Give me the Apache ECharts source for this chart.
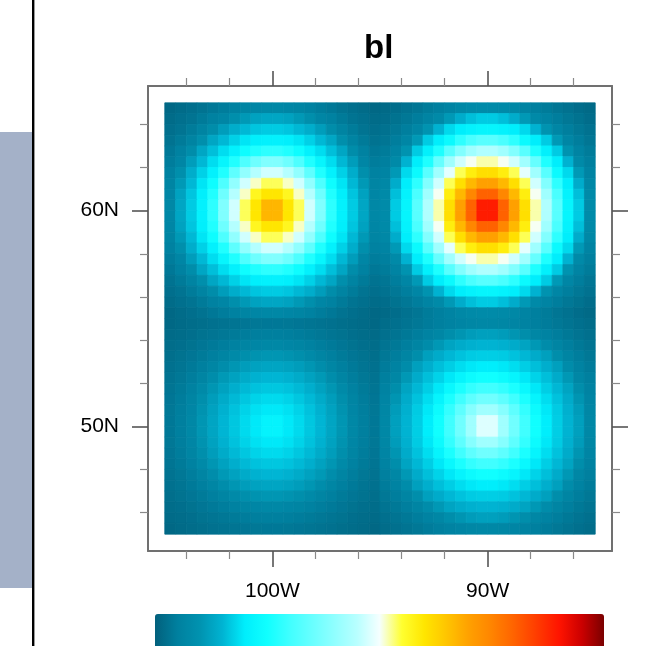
<!DOCTYPE html>
<html><head><meta charset="utf-8">
<script src="https://cdn.jsdelivr.net/npm/echarts@6/dist/echarts.min.js"></script>
<style>html,body{margin:0;padding:0;background:#fff}#c{width:653px;height:646px}</style>
</head><body><div id="c"></div>
<script>
// grid cell centres (0.5 degree cells)
const lonCenters = [-104.75,-104.25,-103.75,-103.25,-102.75,-102.25,-101.75,-101.25,-100.75,-100.25,-99.75,-99.25,-98.75,-98.25,-97.75,-97.25,-96.75,-96.25,-95.75,-95.25,-94.75,-94.25,-93.75,-93.25,-92.75,-92.25,-91.75,-91.25,-90.75,-90.25,-89.75,-89.25,-88.75,-88.25,-87.75,-87.25,-86.75,-86.25,-85.75,-85.25];
const latCenters = [64.75,64.25,63.75,63.25,62.75,62.25,61.75,61.25,60.75,60.25,59.75,59.25,58.75,58.25,57.75,57.25,56.75,56.25,55.75,55.25,54.75,54.25,53.75,53.25,52.75,52.25,51.75,51.25,50.75,50.25,49.75,49.25,48.75,48.25,47.75,47.25,46.75,46.25,45.75,45.25];
const cellDeg = 0.5;

// values (north to south rows, west to east columns) per quadrant
const topLeft = [
[1.3,1.8,2.4,3.0,3.8,4.5,5.5,6.2,6.7,7.0,7.0,6.7,6.2,5.5,4.5,3.8,3.0,2.4,1.8,1.3],
[1.8,2.5,3.2,4.2,5.5,6.7,8.9,10.9,12.3,13.0,13.0,12.3,10.9,8.9,6.7,5.5,4.2,3.2,2.5,1.8],
[2.4,3.2,4.3,6.0,8.3,11.6,14.0,15.4,16.5,17.0,17.0,16.5,15.4,14.0,11.6,8.3,6.0,4.3,3.2,2.4],
[3.0,4.2,6.0,8.9,13.0,15.4,17.5,19.2,20.4,21.0,21.0,20.4,19.2,17.5,15.4,13.0,8.9,6.0,4.2,3.0],
[3.8,5.5,8.3,13.0,16.0,18.6,21.0,24.4,26.7,28.0,28.0,26.7,24.4,21.0,18.6,16.0,13.0,8.3,5.5,3.8],
[4.5,6.7,11.6,15.4,18.6,22.1,26.7,31.8,35.8,38.0,38.0,35.8,31.8,26.7,22.1,18.6,15.4,11.6,6.7,4.5],
[5.5,8.9,14.0,17.5,21.0,26.7,33.8,40.1,44.5,47.0,47.0,44.5,40.1,33.8,26.7,21.0,17.5,14.0,8.9,5.5],
[6.2,10.9,15.4,19.2,24.4,31.8,40.1,47.0,51.4,54.0,54.0,51.4,47.0,40.1,31.8,24.4,19.2,15.4,10.9,6.2],
[6.7,12.3,16.5,20.4,26.7,35.8,44.5,51.4,56.7,60.0,60.0,56.7,51.4,44.5,35.8,26.7,20.4,16.5,12.3,6.7],
[7.0,13.0,17.0,21.0,28.0,38.0,47.0,54.0,60.0,67.0,67.0,60.0,54.0,47.0,38.0,28.0,21.0,17.0,13.0,7.0],
[7.0,13.0,17.0,21.0,28.0,38.0,47.0,54.0,60.0,67.0,67.0,60.0,54.0,47.0,38.0,28.0,21.0,17.0,13.0,7.0],
[6.7,12.3,16.5,20.4,26.7,35.8,44.5,51.4,56.7,60.0,60.0,56.7,51.4,44.5,35.8,26.7,20.4,16.5,12.3,6.7],
[6.2,10.9,15.4,19.2,24.4,31.8,40.1,47.0,51.4,54.0,54.0,51.4,47.0,40.1,31.8,24.4,19.2,15.4,10.9,6.2],
[5.5,8.9,14.0,17.5,21.0,26.7,33.8,40.1,44.5,47.0,47.0,44.5,40.1,33.8,26.7,21.0,17.5,14.0,8.9,5.5],
[4.5,6.7,11.6,15.4,18.6,22.1,26.7,31.8,35.8,38.0,38.0,35.8,31.8,26.7,22.1,18.6,15.4,11.6,6.7,4.5],
[3.8,5.5,8.3,13.0,16.0,18.6,21.0,24.4,26.7,28.0,28.0,26.7,24.4,21.0,18.6,16.0,13.0,8.3,5.5,3.8],
[3.0,4.2,6.0,8.9,13.0,15.4,17.5,19.2,20.4,21.0,21.0,20.4,19.2,17.5,15.4,13.0,8.9,6.0,4.2,3.0],
[2.4,3.2,4.3,6.0,8.3,11.6,14.0,15.4,16.5,17.0,17.0,16.5,15.4,14.0,11.6,8.3,6.0,4.3,3.2,2.4],
[1.8,2.5,3.2,4.2,5.5,6.7,8.9,10.9,12.3,13.0,13.0,12.3,10.9,8.9,6.7,5.5,4.2,3.2,2.5,1.8],
[1.3,1.8,2.4,3.0,3.8,4.5,5.5,6.2,6.7,7.0,7.0,6.7,6.2,5.5,4.5,3.8,3.0,2.4,1.8,1.3]
];
const topRight = [
[1.5,2.1,2.8,3.4,4.3,5.0,6.1,7.1,7.7,8.0,8.0,7.7,7.1,6.1,5.0,4.3,3.4,2.8,2.1,1.5],
[2.1,2.9,3.7,4.7,6.1,7.7,10.9,13.9,16.0,17.0,17.0,16.0,13.9,10.9,7.7,6.1,4.7,3.7,2.9,2.1],
[2.8,3.7,4.8,6.7,9.9,14.9,18.2,20.1,21.3,22.0,22.0,21.3,20.1,18.2,14.9,9.9,6.7,4.8,3.7,2.8],
[3.4,4.7,6.7,10.9,17.0,20.1,23.5,28.1,31.3,33.0,33.0,31.3,28.1,23.5,20.1,17.0,10.9,6.7,4.7,3.4],
[4.3,6.1,9.9,17.0,20.7,26.5,33.0,38.3,42.0,44.0,44.0,42.0,38.3,33.0,26.5,20.7,17.0,9.9,6.1,4.3],
[5.0,7.7,14.9,20.1,26.5,34.7,42.0,47.0,50.3,52.0,52.0,50.3,47.0,42.0,34.7,26.5,20.1,14.9,7.7,5.0],
[6.1,10.9,18.2,23.5,33.0,42.0,48.6,54.1,58.5,61.0,61.0,58.5,54.1,48.6,42.0,33.0,23.5,18.2,10.9,6.1],
[7.1,13.9,20.1,28.1,38.3,47.0,54.1,61.0,66.7,70.0,70.0,66.7,61.0,54.1,47.0,38.3,28.1,20.1,13.9,7.1],
[7.7,16.0,21.3,31.3,42.0,50.3,58.5,66.7,74.4,80.0,80.0,74.4,66.7,58.5,50.3,42.0,31.3,21.3,16.0,7.7],
[8.0,17.0,22.0,33.0,44.0,52.0,61.0,70.0,80.0,89.0,89.0,80.0,70.0,61.0,52.0,44.0,33.0,22.0,17.0,8.0],
[8.0,17.0,22.0,33.0,44.0,52.0,61.0,70.0,80.0,89.0,89.0,80.0,70.0,61.0,52.0,44.0,33.0,22.0,17.0,8.0],
[7.7,16.0,21.3,31.3,42.0,50.3,58.5,66.7,74.4,80.0,80.0,74.4,66.7,58.5,50.3,42.0,31.3,21.3,16.0,7.7],
[7.1,13.9,20.1,28.1,38.3,47.0,54.1,61.0,66.7,70.0,70.0,66.7,61.0,54.1,47.0,38.3,28.1,20.1,13.9,7.1],
[6.1,10.9,18.2,23.5,33.0,42.0,48.6,54.1,58.5,61.0,61.0,58.5,54.1,48.6,42.0,33.0,23.5,18.2,10.9,6.1],
[5.0,7.7,14.9,20.1,26.5,34.7,42.0,47.0,50.3,52.0,52.0,50.3,47.0,42.0,34.7,26.5,20.1,14.9,7.7,5.0],
[4.3,6.1,9.9,17.0,20.7,26.5,33.0,38.3,42.0,44.0,44.0,42.0,38.3,33.0,26.5,20.7,17.0,9.9,6.1,4.3],
[3.4,4.7,6.7,10.9,17.0,20.1,23.5,28.1,31.3,33.0,33.0,31.3,28.1,23.5,20.1,17.0,10.9,6.7,4.7,3.4],
[2.8,3.7,4.8,6.7,9.9,14.9,18.2,20.1,21.3,22.0,22.0,21.3,20.1,18.2,14.9,9.9,6.7,4.8,3.7,2.8],
[2.1,2.9,3.7,4.7,6.1,7.7,10.9,13.9,16.0,17.0,17.0,16.0,13.9,10.9,7.7,6.1,4.7,3.7,2.9,2.1],
[1.5,2.1,2.8,3.4,4.3,5.0,6.1,7.1,7.7,8.0,8.0,7.7,7.1,6.1,5.0,4.3,3.4,2.8,2.1,1.5]
];
const bottomLeft = [
[1.3,1.7,2.0,2.3,2.7,3.0,3.3,3.5,3.7,3.8,3.8,3.7,3.5,3.3,3.0,2.7,2.3,2.0,1.7,1.3],
[1.7,2.0,2.4,2.9,3.3,3.7,4.2,4.6,4.9,5.0,5.0,4.9,4.6,4.2,3.7,3.3,2.9,2.4,2.0,1.7],
[2.0,2.4,2.9,3.5,4.1,4.7,5.5,6.2,6.7,7.0,7.0,6.7,6.2,5.5,4.7,4.1,3.5,2.9,2.4,2.0],
[2.3,2.9,3.5,4.2,5.0,6.2,7.5,8.9,10.0,10.5,10.5,10.0,8.9,7.5,6.2,5.0,4.2,3.5,2.9,2.3],
[2.7,3.3,4.1,5.0,6.5,8.4,10.5,11.6,12.4,12.8,12.8,12.4,11.6,10.5,8.4,6.5,5.0,4.1,3.3,2.7],
[3.0,3.7,4.7,6.2,8.4,10.9,12.4,13.7,14.7,15.2,15.2,14.7,13.7,12.4,10.9,8.4,6.2,4.7,3.7,3.0],
[3.3,4.2,5.5,7.5,10.5,12.4,14.2,15.5,16.3,16.7,16.7,16.3,15.5,14.2,12.4,10.5,7.5,5.5,4.2,3.3],
[3.5,4.6,6.2,8.9,11.6,13.7,15.5,16.7,17.7,18.3,18.3,17.7,16.7,15.5,13.7,11.6,8.9,6.2,4.6,3.5],
[3.7,4.9,6.7,10.0,12.4,14.7,16.3,17.7,18.9,19.6,19.6,18.9,17.7,16.3,14.7,12.4,10.0,6.7,4.9,3.7],
[3.8,5.0,7.0,10.5,12.8,15.2,16.7,18.3,19.6,21.5,21.5,19.6,18.3,16.7,15.2,12.8,10.5,7.0,5.0,3.8],
[3.8,5.0,7.0,10.5,12.8,15.2,16.7,18.3,19.6,21.5,21.5,19.6,18.3,16.7,15.2,12.8,10.5,7.0,5.0,3.8],
[3.7,4.9,6.7,10.0,12.4,14.7,16.3,17.7,18.9,19.6,19.6,18.9,17.7,16.3,14.7,12.4,10.0,6.7,4.9,3.7],
[3.5,4.6,6.2,8.9,11.6,13.7,15.5,16.7,17.7,18.3,18.3,17.7,16.7,15.5,13.7,11.6,8.9,6.2,4.6,3.5],
[3.3,4.2,5.5,7.5,10.5,12.4,14.2,15.5,16.3,16.7,16.7,16.3,15.5,14.2,12.4,10.5,7.5,5.5,4.2,3.3],
[3.0,3.7,4.7,6.2,8.4,10.9,12.4,13.7,14.7,15.2,15.2,14.7,13.7,12.4,10.9,8.4,6.2,4.7,3.7,3.0],
[2.7,3.3,4.1,5.0,6.5,8.4,10.5,11.6,12.4,12.8,12.8,12.4,11.6,10.5,8.4,6.5,5.0,4.1,3.3,2.7],
[2.3,2.9,3.5,4.2,5.0,6.2,7.5,8.9,10.0,10.5,10.5,10.0,8.9,7.5,6.2,5.0,4.2,3.5,2.9,2.3],
[2.0,2.4,2.9,3.5,4.1,4.7,5.5,6.2,6.7,7.0,7.0,6.7,6.2,5.5,4.7,4.1,3.5,2.9,2.4,2.0],
[1.7,2.0,2.4,2.9,3.3,3.7,4.2,4.6,4.9,5.0,5.0,4.9,4.6,4.2,3.7,3.3,2.9,2.4,2.0,1.7],
[1.3,1.7,2.0,2.3,2.7,3.0,3.3,3.5,3.7,3.8,3.8,3.7,3.5,3.3,3.0,2.7,2.3,2.0,1.7,1.3]
];
const bottomRight = [
[2.0,2.5,3.1,3.7,4.4,5.0,5.8,6.4,6.8,7.0,7.0,6.8,6.4,5.8,5.0,4.4,3.7,3.1,2.5,2.0],
[2.5,3.2,3.9,4.7,5.8,6.8,8.6,10.3,11.4,12.0,12.0,11.4,10.3,8.6,6.8,5.8,4.7,3.9,3.2,2.5],
[3.1,3.9,4.9,6.2,8.1,10.8,12.7,13.8,14.6,15.0,15.0,14.6,13.8,12.7,10.8,8.1,6.2,4.9,3.9,3.1],
[3.7,4.7,6.2,8.6,12.0,13.8,15.3,16.3,17.0,17.3,17.3,17.0,16.3,15.3,13.8,12.0,8.6,6.2,4.7,3.7],
[4.4,5.8,8.1,12.0,14.2,16.0,17.3,18.6,19.5,20.0,20.0,19.5,18.6,17.3,16.0,14.2,12.0,8.1,5.8,4.4],
[5.0,6.8,10.8,13.8,16.0,17.7,19.5,21.9,23.9,25.0,25.0,23.9,21.9,19.5,17.7,16.0,13.8,10.8,6.8,5.0],
[5.8,8.6,12.7,15.3,17.3,19.5,22.9,26.1,28.6,30.0,30.0,28.6,26.1,22.9,19.5,17.3,15.3,12.7,8.6,5.8],
[6.4,10.3,13.8,16.3,18.6,21.9,26.1,30.0,33.8,36.0,36.0,33.8,30.0,26.1,21.9,18.6,16.3,13.8,10.3,6.4],
[6.8,11.4,14.6,17.0,19.5,23.9,28.6,33.8,38.7,42.0,42.0,38.7,33.8,28.6,23.9,19.5,17.0,14.6,11.4,6.8],
[7.0,12.0,15.0,17.3,20.0,25.0,30.0,36.0,42.0,48.0,48.0,42.0,36.0,30.0,25.0,20.0,17.3,15.0,12.0,7.0],
[7.0,12.0,15.0,17.3,20.0,25.0,30.0,36.0,42.0,48.0,48.0,42.0,36.0,30.0,25.0,20.0,17.3,15.0,12.0,7.0],
[6.8,11.4,14.6,17.0,19.5,23.9,28.6,33.8,38.7,42.0,42.0,38.7,33.8,28.6,23.9,19.5,17.0,14.6,11.4,6.8],
[6.4,10.3,13.8,16.3,18.6,21.9,26.1,30.0,33.8,36.0,36.0,33.8,30.0,26.1,21.9,18.6,16.3,13.8,10.3,6.4],
[5.8,8.6,12.7,15.3,17.3,19.5,22.9,26.1,28.6,30.0,30.0,28.6,26.1,22.9,19.5,17.3,15.3,12.7,8.6,5.8],
[5.0,6.8,10.8,13.8,16.0,17.7,19.5,21.9,23.9,25.0,25.0,23.9,21.9,19.5,17.7,16.0,13.8,10.8,6.8,5.0],
[4.4,5.8,8.1,12.0,14.2,16.0,17.3,18.6,19.5,20.0,20.0,19.5,18.6,17.3,16.0,14.2,12.0,8.1,5.8,4.4],
[3.7,4.7,6.2,8.6,12.0,13.8,15.3,16.3,17.0,17.3,17.3,17.0,16.3,15.3,13.8,12.0,8.6,6.2,4.7,3.7],
[3.1,3.9,4.9,6.2,8.1,10.8,12.7,13.8,14.6,15.0,15.0,14.6,13.8,12.7,10.8,8.1,6.2,4.9,3.9,3.1],
[2.5,3.2,3.9,4.7,5.8,6.8,8.6,10.3,11.4,12.0,12.0,11.4,10.3,8.6,6.8,5.8,4.7,3.9,3.2,2.5],
[2.0,2.5,3.1,3.7,4.4,5.0,5.8,6.4,6.8,7.0,7.0,6.8,6.4,5.8,5.0,4.4,3.7,3.1,2.5,2.0]
];

// axis ticks and labels
const xMajorTicks = [-100, -90];
const xTickLabels = ['100W', '90W'];
const xMinorTicks = [-104, -102, -98, -96, -94, -92, -88, -86];
const yMajorTicks = [50, 60];
const yTickLabels = ['50N', '60N'];
const yMinorTicks = [46, 48, 52, 54, 56, 58, 62, 64];

// colour scale (evenly spaced from min to max)
const colorScale = ['#02607c','#00809f','#0093b0','#00b3d2','#00eefc','#10ffff','#40ffff','#68ffff','#90ffff','#b8ffff','#f5ffff','#ffff30','#ffe600','#ffc400','#ffa000','#ff8400','#ff6200','#ff3c00','#ff1400','#cc0000','#7a0000'];

const data = [];
[[topLeft,0,0],[topRight,0,20],[bottomLeft,20,0],[bottomRight,20,20]].forEach(([q,r0,c0]) => {
  q.forEach((row, r) => row.forEach((v, c) => data.push([lonCenters[c0 + c], latCenters[r0 + r], v])));
});

const FONT = 'Liberation Sans, Arial, Helvetica, sans-serif';
const frameColor = '#707070';
function xAx(pos, ticks, len, major, labels) {
  return {
    type: 'value', position: pos, min: -105.78, max: -84.22,
    axisLine: { show: major, lineStyle: { color: frameColor, width: 2 } },
    axisTick: { show: true, customValues: ticks, length: len, lineStyle: { color: major ? '#555' : '#8a8a8a', width: major ? 1.6 : 1.2 } },
    axisLabel: labels ? { show: true, customValues: xMajorTicks, formatter: v => xTickLabels[xMajorTicks.indexOf(v)], fontSize: 21, color: '#000', fontFamily: FONT, margin: 30 } : { show: false },
    splitLine: { show: false }
  };
}
function yAx(pos, ticks, len, major, labels) {
  return {
    type: 'value', position: pos, min: 44.22, max: 65.78,
    axisLine: { show: major, lineStyle: { color: frameColor, width: 2 } },
    axisTick: { show: true, customValues: ticks, length: len, lineStyle: { color: major ? '#555' : '#8a8a8a', width: major ? 1.6 : 1.2 } },
    axisLabel: labels ? { show: true, customValues: yMajorTicks, formatter: v => yTickLabels[yMajorTicks.indexOf(v)], fontSize: 21, color: '#000', fontFamily: FONT, margin: 29 } : { show: false },
    splitLine: { show: false }
  };
}

const chart = echarts.init(document.getElementById('c'), null, { renderer: 'canvas' });
chart.setOption({
  animation: false,
  backgroundColor: '#fff',
  title: { text: 'bl', left: 364, top: 32, padding: 0, textStyle: { fontSize: 33, fontWeight: 'bold', color: '#000', fontFamily: FONT } },
  grid: { left: 148, top: 86, width: 464, height: 465, containLabel: false },
  xAxis: [
    xAx('bottom', xMajorTicks, 16, true, true),
    xAx('bottom', xMinorTicks, 8, false, false),
    xAx('top', xMajorTicks, 15, true, false),
    xAx('top', xMinorTicks, 8, false, false)
  ],
  yAxis: [
    yAx('left', yMajorTicks, 16, true, true),
    yAx('left', yMinorTicks, 8, false, false),
    yAx('right', yMajorTicks, 16, true, false),
    yAx('right', yMinorTicks, 8, false, false)
  ],
  visualMap: {
    type: 'continuous', min: 0, max: 100, dimension: 2, seriesIndex: 0,
    orient: 'horizontal', left: 155, top: 614, itemWidth: 36, itemHeight: 449,
    calculable: false, padding: 0, text: null, hoverLink: false,
    inRange: { color: colorScale }
  },
  graphic: [
    { type: 'rect', shape: { x: 0, y: 132, width: 32, height: 456 }, style: { fill: '#a4b1c8' }, silent: true },
    { type: 'rect', shape: { x: 32, y: 0, width: 2.4, height: 646 }, style: { fill: '#000' }, silent: true }
  ],
  series: [{
    type: 'custom', xAxisIndex: 0, yAxisIndex: 0, data: data,
    encode: { x: 0, y: 1 },
    renderItem: function (params, api) {
      const c = api.coord([api.value(0), api.value(1)]);
      const s = api.size([cellDeg, cellDeg]);
      const col = api.visual('color');
      return { type: 'rect', shape: { x: c[0] - s[0] / 2, y: c[1] - s[1] / 2, width: s[0], height: s[1] }, style: { fill: col, stroke: col, lineWidth: 0.8 } };
    }
  }]
});
</script></body></html>
